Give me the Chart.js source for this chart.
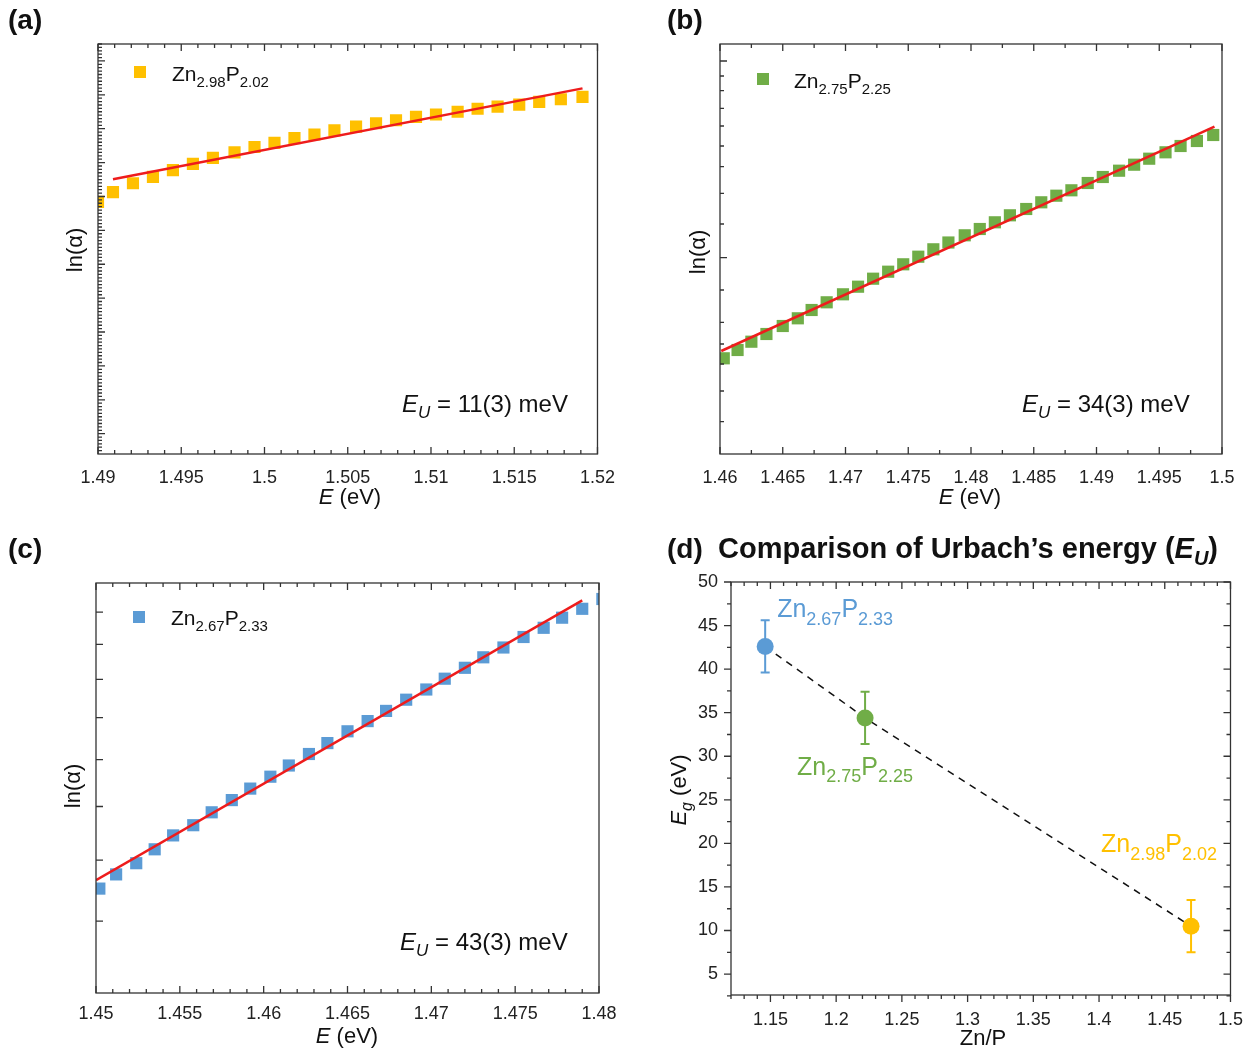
<!DOCTYPE html>
<html>
<head>
<meta charset="utf-8">
<script src="https://cdn.jsdelivr.net/npm/chart.js@4.4.0/dist/chart.umd.min.js"></script>
<style>
  body { margin: 0; background: #fff; }
  canvas { position: absolute; }
</style>
</head>
<body>
<canvas id="chartA" width="628" height="520" style="left:0;top:0"></canvas>
<canvas id="chartB" width="629" height="520" style="left:628px;top:0"></canvas>
<canvas id="chartC" width="628" height="531" style="left:0;top:520px"></canvas>
<canvas id="chartD" width="629" height="531" style="left:628px;top:520px"></canvas>
<script>
var FONT = '"Liberation Sans", Arial, Helvetica, sans-serif';
Chart.defaults.font.family = FONT;

// (a) Zn2.98P2.02
var energyA = [1.4900, 1.4909, 1.4921, 1.4933, 1.4945, 1.4957, 1.4969, 1.4982, 1.4994, 1.5006, 1.5018, 1.5030, 1.5042,
               1.5055, 1.5067, 1.5079, 1.5091, 1.5103, 1.5116, 1.5128, 1.5140, 1.5153, 1.5165, 1.5178, 1.5191];
var lnAlphaA = [6.84, 7.13, 7.39, 7.58, 7.78, 7.96, 8.14, 8.30, 8.46, 8.58, 8.72, 8.83, 8.95,
                9.06, 9.16, 9.25, 9.35, 9.42, 9.50, 9.59, 9.65, 9.71, 9.79, 9.87, 9.94];
var fitEnergyA = [1.4909, 1.5191];
var fitLnA = [7.51, 10.19];
var xTicksA = [1.49, 1.495, 1.5, 1.505, 1.51, 1.515, 1.52];
var yMajorA = [0, 1, 2, 3, 4, 5, 6, 7, 8, 9, 10, 11];

// (b) Zn2.75P2.25
var energyB = [1.4603, 1.4614, 1.4625, 1.4637, 1.4650, 1.4662, 1.4673, 1.4685, 1.4698, 1.4710, 1.4722, 1.4734,
               1.4746, 1.4758, 1.4770, 1.4782, 1.4795, 1.4807, 1.4819, 1.4831, 1.4844, 1.4856, 1.4868, 1.4880,
               1.4893, 1.4905, 1.4918, 1.4930, 1.4942, 1.4955, 1.4967, 1.4980, 1.4993, 1.5005];
var lnAlphaB = [9.57, 10.40, 11.23, 12.00, 12.80, 13.57, 14.40, 15.17, 15.97, 16.73, 17.53, 18.23,
                18.97, 19.73, 20.47, 21.15, 21.87, 22.50, 23.17, 23.87, 24.50, 25.17, 25.83, 26.37,
                27.10, 27.70, 28.33, 28.93, 29.53, 30.17, 30.80, 31.30, 31.90, 32.63];
var fitEnergyB = [1.4601, 1.4994];
var fitLnB = [10.3, 32.73];
var xTicksB = [1.46, 1.465, 1.47, 1.475, 1.48, 1.485, 1.49, 1.495, 1.5];
var yMajorB = [19.63, 39.3];
var yMinorB = [3.23, 6.3, 9.0, 11.0, 13.17, 16.4, 23.0, 26.07, 28.73, 30.8, 32.8, 34.57, 36.33, 37.8];

// (c) Zn2.67P2.33
var energyC = [1.4502, 1.4512, 1.4524, 1.4535, 1.4546, 1.4558, 1.4569, 1.4581, 1.4592, 1.4604, 1.4615, 1.4627,
               1.4638, 1.4650, 1.4662, 1.4673, 1.4685, 1.4697, 1.4708, 1.4720, 1.4731, 1.4743, 1.4755, 1.4767,
               1.4778, 1.4790, 1.4802];
var lnAlphaC = [10.44, 11.86, 12.98, 14.37, 15.76, 16.78, 18.07, 19.29, 20.44, 21.63, 22.75, 23.90,
                24.99, 26.17, 27.19, 28.21, 29.33, 30.35, 31.43, 32.52, 33.57, 34.55, 35.60, 36.52,
                37.53, 38.42, 39.40];
var fitEnergyC = [1.4500, 1.4790];
var fitLnC = [11.29, 39.26];
var xTicksC = [1.45, 1.455, 1.46, 1.465, 1.47, 1.475, 1.48];
var yMajorC = [7.18, 13.29, 18.65, 23.33, 27.53, 31.36, 34.86, 38.08];

// (d) Urbach energy vs Zn/P
var sampleNames = [['2.67', '2.33'], ['2.75', '2.25'], ['2.98', '2.02']];
var znRatio = [1.146, 1.222, 1.470];
var urbachEU = [42.6, 34.4, 10.5];
var urbachErr = [3, 3, 3];
var xTicksD = [1.15, 1.2, 1.25, 1.3, 1.35, 1.4, 1.45, 1.5];
var yTicksD = [5, 10, 15, 20, 25, 30, 35, 40, 45, 50];

var YELLOW = '#FFC000', GREEN = '#70AD47', BLUE = '#5B9BD5', RED = '#EE1C1C';
var sampleColors = [BLUE, GREEN, YELLOW];

function steps(min, max, step) {
  var out = [];
  for (var i = 0; ; i++) {
    var v = Math.round((min + i * step) * 1e6) / 1e6;
    if (v > max + 1e-9) break;
    out.push(v);
  }
  return out;
}
function minorOf(min, max, step, majors) {
  return steps(min, max, step).filter(function (v) {
    return !majors.some(function (m) { return Math.abs(m - v) < 1e-7; });
  });
}
function fmt(v) { return String(+(+v).toFixed(4)); }

// rich text helpers
function fontOf(r) { return (r.italic ? 'italic ' : '') + (r.bold ? 'bold ' : '') + r.size + 'px ' + FONT; }
function runsWidth(ctx, runs) {
  var w = 0;
  runs.forEach(function (r) { ctx.font = fontOf(r); w += ctx.measureText(r.t).width; });
  return w;
}
function drawRuns(ctx, runs, x, y, align, color) {
  var w = runsWidth(ctx, runs);
  var cx = align === 'center' ? x - w / 2 : (align === 'right' ? x - w : x);
  ctx.fillStyle = color;
  ctx.textBaseline = 'alphabetic';
  ctx.textAlign = 'left';
  runs.forEach(function (r) {
    ctx.font = fontOf(r);
    ctx.fillText(r.t, cx, y + (r.dy || 0));
    cx += ctx.measureText(r.t).width;
  });
}
function formula(a, b, size, sub) {
  return [{t: 'Zn', size: size}, {t: a, size: sub, dy: size * 0.3},
          {t: 'P', size: size}, {t: b, size: sub, dy: size * 0.3}];
}
function rotated(ctx, runs, cx, cy, color) {
  ctx.save();
  ctx.translate(cx, cy);
  ctx.rotate(-Math.PI / 2);
  drawRuns(ctx, runs, 0, runs[0].size * 0.36, 'center', color);
  ctx.restore();
}

// frame + ticks drawn through the scales
var frameTicks = {
  id: 'frameTicks',
  afterDatasetsDraw: function (chart, args, o) {
    var ctx = chart.ctx, a = chart.chartArea, sx = chart.scales.x, sy = chart.scales.y;
    var out = o.outward ? 1 : -1;
    ctx.save();
    ctx.strokeStyle = '#333';
    ctx.lineWidth = 1.3;
    ctx.beginPath();
    [[o.xMajor, o.majorLen], [o.xMinor, o.minorLen]].forEach(function (p) {
      (p[0] || []).forEach(function (v) {
        var px = sx.getPixelForValue(v);
        ctx.moveTo(px, a.bottom); ctx.lineTo(px, a.bottom + out * p[1]);
        ctx.moveTo(px, a.top); ctx.lineTo(px, a.top + p[1]);
      });
    });
    [[o.yMajor, o.majorLen], [o.yMinor, o.minorLen]].forEach(function (p) {
      (p[0] || []).forEach(function (v) {
        var py = sy.getPixelForValue(v);
        ctx.moveTo(a.left, py); ctx.lineTo(a.left - out * p[1], py);
        if (o.mirrorY) { ctx.moveTo(a.right, py); ctx.lineTo(a.right - p[1], py); }
      });
    });
    ctx.stroke();
    ctx.strokeRect(a.left, a.top, a.right - a.left, a.bottom - a.top);
    ctx.restore();
  }
};

var annotate = {
  id: 'annotate',
  afterDraw: function (chart, args, o) { if (o.draw) o.draw(chart.ctx, chart); }
};

function xyData(xs, ys) { return xs.map(function (x, i) { return {x: x, y: ys[i]}; }); }

function makePanel(id, cfg) {
  var ticksX = cfg.xTicks;
  return new Chart(document.getElementById(id), {
    type: 'scatter',
    data: {
      datasets: [
        { data: xyData(cfg.fitX, cfg.fitY), showLine: true, borderColor: RED, borderWidth: 2.5,
          pointRadius: 0, clip: 0 },
        { data: xyData(cfg.energy, cfg.lnAlpha), pointStyle: 'rect', pointRadius: 8.6,
          backgroundColor: cfg.color, borderWidth: 0, clip: 0 }
      ]
    },
    options: {
      responsive: false, animation: false,
      layout: { padding: { left: 0, top: cfg.area.top, right: cfg.area.right, bottom: 0 } },
      plugins: {
        legend: { display: false }, tooltip: { enabled: false },
        frameTicks: { xMajor: ticksX, xMinor: minorOf(cfg.xMin, cfg.xMax, cfg.xMinorStep, ticksX),
                      yMajor: cfg.yMajor, yMinor: cfg.yMinor, majorLen: 7, minorLen: 4, outward: false },
        annotate: { draw: cfg.draw }
      },
      scales: {
        x: { type: 'linear', min: cfg.xMin, max: cfg.xMax,
             afterFit: function (s) { s.height = cfg.area.xh; },
             afterBuildTicks: function (s) { s.ticks = ticksX.map(function (v) { return {value: v}; }); },
             grid: { display: false, drawTicks: false }, border: { display: false },
             ticks: { autoSkip: false, maxRotation: 0, padding: cfg.area.pad, color: '#222',
                      font: { size: 18 }, callback: fmt } },
        y: { type: 'linear', min: cfg.yMin, max: cfg.yMax,
             afterFit: function (s) { s.width = cfg.area.left; },
             grid: { display: false, drawTicks: false }, border: { display: false },
             ticks: { display: false } }
      }
    },
    plugins: [frameTicks, annotate]
  });
}

var euPos = { '11(3) meV': [402, 412], '34(3) meV': [394, 412], '43(3) meV': [400, 430] };

function drawPanelText(letter, lx, ly, ylab, xlab, leg, eu, color, sub) {
  return function (ctx, chart) {
    drawRuns(ctx, [{t: letter, size: 28, bold: true}], lx, ly, 'left', '#111');
    rotated(ctx, [{t: 'ln(\u03B1)', size: 22}], ylab[0], ylab[1], '#111');
    drawRuns(ctx, [{t: 'E', size: 22, italic: true}, {t: ' (eV)', size: 22}], xlab[0], xlab[1], 'center', '#111');
    ctx.fillStyle = color;
    ctx.fillRect(leg[0] - 6, leg[1] - 6, 12, 12);
    drawRuns(ctx, formula(sub[0], sub[1], 21, 15), leg[2], leg[3], 'left', '#111');
    drawRuns(ctx, [{t: 'E', size: 24, italic: true}, {t: 'U', size: 17, italic: true, dy: 6},
                   {t: ' = ' + eu, size: 24}], euPos[eu][0], euPos[eu][1], 'left', '#111');
  };
}

makePanel('chartA', {
  energy: energyA, lnAlpha: lnAlphaA, fitX: fitEnergyA, fitY: fitLnA, color: YELLOW,
  xMin: 1.49, xMax: 1.52, xTicks: xTicksA, xMinorStep: 0.001,
  yMin: -0.6, yMax: 11.5, yMajor: yMajorA, yMinor: minorOf(-0.6, 11.5, 0.1, yMajorA).filter(function (v) { return v > -0.55; }),
  area: { left: 98, top: 44, right: 27, xh: 66, pad: 13 },
  draw: drawPanelText('(a)', 8, 29, [74, 250], [350, 504], [140, 72, 172, 81], '11(3) meV', YELLOW, ['2.98', '2.02'])
});

makePanel('chartB', {
  energy: energyB, lnAlpha: lnAlphaB, fitX: fitEnergyB, fitY: fitLnB, color: GREEN,
  xMin: 1.46, xMax: 1.5, xTicks: xTicksB, xMinorStep: 0.0025,
  yMin: 0, yMax: 41, yMajor: yMajorB, yMinor: yMinorB,
  area: { left: 92, top: 44, right: 35, xh: 66, pad: 13 },
  draw: drawPanelText('(b)', 39, 29, [69, 252], [342, 504], [135, 79, 166, 88], '34(3) meV', GREEN, ['2.75', '2.25'])
});

makePanel('chartC', {
  energy: energyC, lnAlpha: lnAlphaC, fitX: fitEnergyC, fitY: fitLnC, color: BLUE,
  xMin: 1.45, xMax: 1.48, xTicks: xTicksC, xMinorStep: 0.001,
  yMin: 0, yMax: 41, yMajor: yMajorC, yMinor: [],
  area: { left: 96, top: 63, right: 29, xh: 58, pad: 10 },
  draw: drawPanelText('(c)', 8, 38, [72, 266], [347, 523], [139, 97, 171, 105], '43(3) meV', BLUE, ['2.67', '2.33'])
});

// (d) error bars through the scales
var errorBars = {
  id: 'errorBars',
  beforeDatasetsDraw: function (chart) {
    var ctx = chart.ctx, sx = chart.scales.x, sy = chart.scales.y;
    ctx.save();
    ctx.lineWidth = 2;
    znRatio.forEach(function (z, i) {
      var px = sx.getPixelForValue(z);
      var lo = sy.getPixelForValue(urbachEU[i] - urbachErr[i]);
      var hi = sy.getPixelForValue(urbachEU[i] + urbachErr[i]);
      ctx.strokeStyle = sampleColors[i];
      ctx.beginPath();
      ctx.moveTo(px, lo); ctx.lineTo(px, hi);
      ctx.moveTo(px - 4.5, lo); ctx.lineTo(px + 4.5, lo);
      ctx.moveTo(px - 4.5, hi); ctx.lineTo(px + 4.5, hi);
      ctx.stroke();
    });
    ctx.restore();
  }
};

var labelOffsets = [[12, -29], [-68, 57], [-90, -74]];
var xMinorD = minorOf(1.12, 1.5, 0.01, xTicksD);
var yMinorD = minorOf(2.5, 50, 2.5, yTicksD);

new Chart(document.getElementById('chartD'), {
  type: 'scatter',
  data: {
    datasets: [
      { data: xyData(znRatio, urbachEU), pointStyle: 'circle', pointRadius: 8.5,
        backgroundColor: sampleColors, borderWidth: 0 },
      { data: xyData(znRatio, urbachEU), showLine: true, borderColor: '#111', borderWidth: 1.5,
        borderDash: [7, 6], pointRadius: 0 }
    ]
  },
  options: {
    responsive: false, animation: false,
    layout: { padding: { left: 0, top: 62, right: 24, bottom: 0 } },
    plugins: {
      legend: { display: false }, tooltip: { enabled: false },
      frameTicks: { xMajor: xTicksD, xMinor: xMinorD, yMajor: yTicksD, yMinor: yMinorD,
                    majorLen: 7, minorLen: 4, outward: true, mirrorY: true },
      annotate: {
        draw: function (ctx, chart) {
          var sx = chart.scales.x, sy = chart.scales.y;
          drawRuns(ctx, [{t: '(d)', size: 28, bold: true}], 39, 38, 'left', '#111');
          drawRuns(ctx, [{t: 'Comparison of Urbach\u2019s energy (', size: 29, bold: true},
                         {t: 'E', size: 29, bold: true, italic: true},
                         {t: 'U', size: 20, bold: true, italic: true, dy: 7},
                         {t: ')', size: 29, bold: true}], 90, 38, 'left', '#111');
          rotated(ctx, [{t: 'E', size: 22, italic: true}, {t: 'g', size: 16, italic: true, dy: 6},
                        {t: ' (eV)', size: 22}], 50, 270, '#111');
          drawRuns(ctx, [{t: 'Zn/P', size: 22}], 355, 525, 'center', '#111');
          znRatio.forEach(function (z, i) {
            var px = sx.getPixelForValue(z), py = sy.getPixelForValue(urbachEU[i]);
            drawRuns(ctx, formula(sampleNames[i][0], sampleNames[i][1], 25, 18),
                     px + labelOffsets[i][0], py + labelOffsets[i][1], 'left', sampleColors[i]);
          });
        }
      },
      errorBars: {}
    },
    scales: {
      x: { type: 'linear', min: 1.12, max: 1.5,
           afterFit: function (s) { s.height = 56; },
           afterBuildTicks: function (s) { s.ticks = xTicksD.map(function (v) { return {value: v}; }); },
           grid: { display: false, drawTicks: false }, border: { display: false },
           ticks: { autoSkip: false, maxRotation: 0, padding: 14, color: '#222', font: { size: 18 }, callback: fmt } },
      y: { type: 'linear', min: 2.6, max: 50,
           afterFit: function (s) { s.width = 103; },
           afterBuildTicks: function (s) { s.ticks = yTicksD.map(function (v) { return {value: v}; }); },
           grid: { display: false, drawTicks: false }, border: { display: false },
           ticks: { autoSkip: false, padding: 13, color: '#222', font: { size: 18 }, callback: fmt } }
    }
  },
  plugins: [errorBars, frameTicks, annotate]
});
</script>
</body>
</html>
